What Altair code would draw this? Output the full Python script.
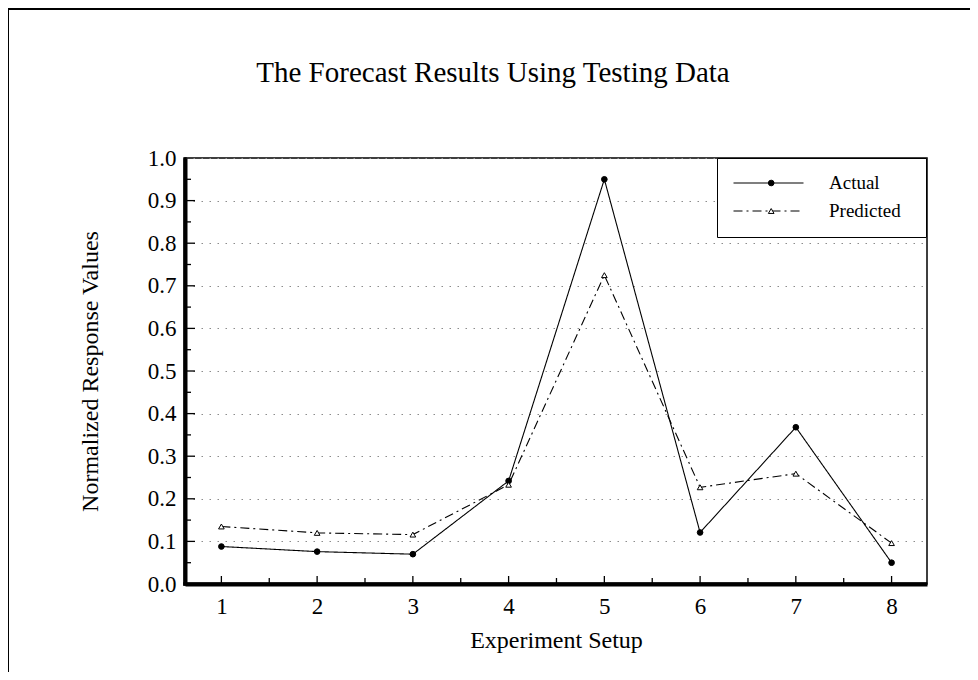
import altair as alt
import pandas as pd

setups = [1, 2, 3, 4, 5, 6, 7, 8]
actual = [0.088, 0.076, 0.070, 0.242, 0.950, 0.121, 0.368, 0.050]
predicted = [0.135, 0.120, 0.116, 0.233, 0.725, 0.227, 0.259, 0.096]
series_names = ["Actual", "Predicted"]

y_values = [0.0, 0.05, 0.1, 0.15, 0.2, 0.25, 0.3, 0.35, 0.4, 0.45, 0.5,
            0.55, 0.6, 0.65, 0.7, 0.75, 0.8, 0.85, 0.9, 0.95, 1.0]
x_major = [1, 2, 3, 4, 5, 6, 7, 8]
x_minor = [1.5, 2.5, 3.5, 4.5, 5.5, 6.5, 7.5]
y_major = [0.1, 0.2, 0.3, 0.4, 0.5, 0.6, 0.7, 0.8, 0.9]
y_minor = [0.05, 0.15, 0.25, 0.35, 0.45, 0.55, 0.65, 0.75, 0.85, 0.95]

rows = []
for s, a, p in zip(setups, actual, predicted):
    rows.append({"setup": s, "value": a, "series": series_names[0], "series2": series_names[0]})
    rows.append({"setup": s, "value": p, "series": series_names[1], "series2": series_names[1]})
df = pd.DataFrame(rows)

FONT = "Liberation Serif"
W, H = 742, 426
xscale = alt.Scale(domain=[0.62, 8.37], nice=False, zero=False)
yscale = alt.Scale(domain=[0, 1], nice=False, zero=False)

base = alt.Chart(df)

lines = base.mark_line(color="black", strokeWidth=1.1).encode(
    x=alt.X("setup:Q", scale=xscale,
            axis=alt.Axis(title="Experiment Setup", values=setups, format="d",
                          grid=False, labelPadding=11, titlePadding=10,
                          domainWidth=4, domainColor="black")),
    y=alt.Y("value:Q", scale=yscale,
            axis=alt.Axis(title="Normalized Response Values", values=y_values,
                          labelExpr="round(datum.value*100) % 10 == 0 ? format(datum.value, '.1f') : ''",
                          grid=True, gridDash=[1.5, 6.5], gridColor="#8c8c8c",
                          gridWidth=1, labelPadding=9, titlePadding=45,
                          domainWidth=4, domainColor="black")),
    strokeDash=alt.StrokeDash(
        "series:N",
        scale=alt.Scale(range=[[1, 0], [9, 4, 2, 4]]),
        legend=alt.Legend(title="\u00a0", titleOrient="right", titlePadding=10,
                          titleFontSize=2, orient="none", legendX=532, legendY=0,
                          padding=15.5, strokeColor="black",
                          fillColor="white", symbolType="stroke",
                          symbolSize=4900, symbolStrokeWidth=1.1,
                          symbolStrokeColor="black", clipHeight=19,
                          rowPadding=8, labelOffset=24.5, labelFont=FONT,
                          labelFontSize=19, labelColor="black", zindex=1)),
)

points = base.mark_point(stroke="black", strokeWidth=1, opacity=1, fillOpacity=1).encode(
    x=alt.X("setup:Q", scale=xscale),
    y=alt.Y("value:Q", scale=yscale),
    shape=alt.Shape("series2:N",
                    scale=alt.Scale(range=["circle", "triangle-up"]),
                    legend=alt.Legend(title=None, orient="none", legendX=576.7,
                                      legendY=15.5, padding=0, clipHeight=19,
                                      rowPadding=8, labelExpr="''",
                                      labelFont=FONT, labelFontSize=19,
                                      symbolStrokeColor="black",
                                      symbolStrokeWidth=1, zindex=2)),
    fill=alt.Fill("series2:N", scale=alt.Scale(range=["black", "white"])),
    size=alt.Size("series2:N", scale=alt.Scale(range=[32, 32])),
)

def tick_layer(vals, horizontal, length):
    if horizontal:
        d = pd.DataFrame({"value": vals})
        return alt.Chart(d).mark_rule(color="black", strokeWidth=1.3).encode(
            y=alt.Y("value:Q", scale=yscale),
            x=alt.value(0), x2=alt.value(length))
    d = pd.DataFrame({"setup": vals})
    return alt.Chart(d).mark_rule(color="black", strokeWidth=1.3).encode(
        x=alt.X("setup:Q", scale=xscale),
        y=alt.value(H), y2=alt.value(H - length))

one = pd.DataFrame({"a": [0]})
frame_left = alt.Chart(one).mark_rule(color="black", strokeWidth=2).encode(
    x=alt.value(-177), y=alt.value(-150), y2=alt.value(530))
frame_top = alt.Chart(one).mark_rule(color="black", strokeWidth=2).encode(
    x=alt.value(-178), x2=alt.value(800), y=alt.value(-149))
axis_left = alt.Chart(one).mark_rule(color="black", strokeWidth=3.5).encode(
    x=alt.value(0), y=alt.value(-0.75), y2=alt.value(H + 1.75))
axis_bottom = alt.Chart(one).mark_rule(color="black", strokeWidth=3.5).encode(
    x=alt.value(-1.75), x2=alt.value(W), y=alt.value(H))

chart = alt.layer(
    lines, points,
    tick_layer(x_major, False, 8), tick_layer(x_minor, False, 6),
    tick_layer(y_major, True, 10), tick_layer(y_minor, True, 6),
    axis_left, axis_bottom, frame_left, frame_top,
).properties(
    width=W, height=H,
    autosize=alt.AutoSizeParams(type="none"),
    padding={"left": 177, "top": 150, "right": 43, "bottom": 88},
    title=alt.Title("The Forecast Results Using Testing Data", font=FONT,
                    fontSize=29, fontWeight="normal", color="black",
                    anchor="middle", frame="group", dx=-63, offset=-104,
                    baseline="alphabetic"),
).configure_view(
    stroke="black", strokeWidth=1.5
).configure_legend(
    strokeWidth=1
).configure_axis(
    ticks=False,
    labelFont=FONT, labelFontSize=23, labelColor="black",
    titleFont=FONT, titleFontSize=24, titleFontWeight="normal", titleColor="black",
)

chart.save("out.html", embed_options={"renderer": "svg", "actions": False})
